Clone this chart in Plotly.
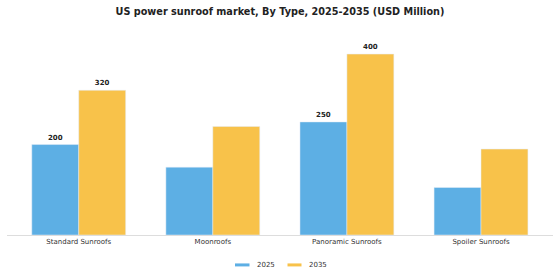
import plotly.graph_objects as go

categories = ["Standard Sunroofs", "Moonroofs", "Panoramic Sunroofs", "Spoiler Sunroofs"]
values_2025 = [200, 150, 250, 105]
values_2035 = [320, 240, 400, 190]
labels_2025 = ["200", "", "250", ""]
labels_2035 = ["320", "", "400", ""]
series_names = ["2025", "2035"]
colors = ["#5DAFE4", "#F8C24A"]

FONT = "DejaVu Sans"
W, H = 560, 280
ML, MR, MT, MB = 7, 7, 35.5, 45
PW, PH = W - ML - MR, H - MT - MB

def px(x):
    return (x - ML) / PW

def py(y):
    return (H - MB - y) / PH

fig = go.Figure()
for name, vals, labs, col in zip(series_names, [values_2025, values_2035],
                                 [labels_2025, labels_2035], colors):
    fig.add_trace(go.Bar(
        name=name, x=categories, y=vals, marker_color=col,
        text=labs, textposition="outside", cliponaxis=False,
        textfont=dict(family=FONT, size=7, color="#222222", weight="bold"),
        showlegend=False,
    ))

# custom legend (wide thin swatches)
legend_items = [(235, 249.5, 255), (287.5, 301.5, 307)]
for (x0, x1, tx), name, col in zip(legend_items, series_names, colors):
    fig.add_shape(type="rect", xref="paper", yref="paper",
                  x0=px(x0), x1=px(x1), y0=py(266.5), y1=py(263.5),
                  fillcolor=col, line_width=0)
    fig.add_annotation(xref="paper", yref="paper", x=px(tx), y=py(265),
                       text=name, showarrow=False, xanchor="left", yanchor="middle",
                       font=dict(family=FONT, size=7, color="#333333"))

fig.update_layout(
    width=W, height=H,
    margin=dict(l=ML, r=MR, t=MT, b=MB),
    paper_bgcolor="white", plot_bgcolor="white",
    barmode="group", bargap=0.30, bargroupgap=0,
    title=dict(text="<b>US power sunroof market, By Type, 2025-2035 (USD Million)</b>",
               x=0.5, xanchor="center", y=0.96, yanchor="middle",
               font=dict(family=FONT, size=9.7, color="#222222")),
    xaxis=dict(showline=True, linecolor="#dddddd", linewidth=1, ticks="",
               range=[-0.535, 3.537],
               tickfont=dict(family=FONT, size=7, color="#333333"), showgrid=False,
               automargin=False),
    yaxis=dict(range=[0, 440], visible=False, showgrid=False),
    showlegend=False,
)
fig.write_html("out.html")
